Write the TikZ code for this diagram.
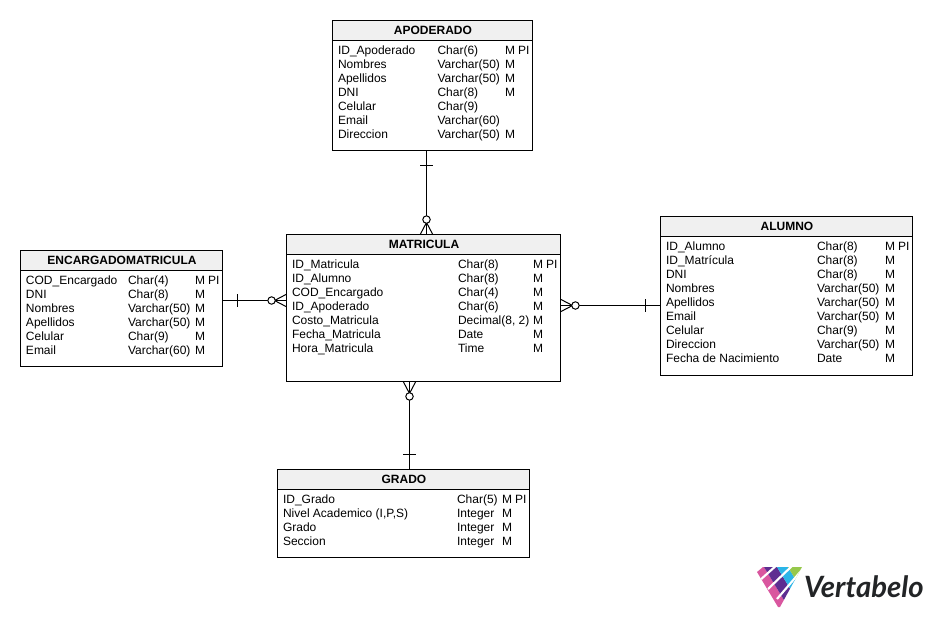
\documentclass[tikz,border=0pt]{standalone}
\usepackage{fontspec}
\setmainfont{Liberation Sans}
\newfontfamily\logofont{Lato}
\definecolor{headfill}{HTML}{F0F0F0}
\definecolor{logopink}{HTML}{D9569F}
\definecolor{logopurple}{HTML}{5E2D91}
\definecolor{logoblue}{HTML}{2BB5E8}
\definecolor{logogreen}{HTML}{96C84B}
\definecolor{logotext}{HTML}{222426}
\tikzset{
  x=0.75pt,y=-0.75pt,
  tablebox/.style={draw=black,line width=0.8pt,fill=white,anchor=north west,inner sep=0pt,outer sep=0pt},
  headbox/.style={draw=black,line width=0.8pt,fill=headfill,anchor=north west,inner sep=0pt,outer sep=0pt,font=\bfseries\fontsize{9}{10}\selectfont},
  cell/.style={anchor=base west,inner sep=0pt,outer sep=0pt,font=\fontsize{9}{10}\selectfont},
  rel/.style={draw=black,line width=0.75pt},
  ring/.style={circle,draw=black,fill=white,line width=0.75pt,minimum size=5.6pt,inner sep=0pt,outer sep=0pt},
  logocut/.style={draw=white,line width=1.6pt},
}
% name, title, left, top, right, bottom
\newcommand{\dbtable}[6]{%
  \node[tablebox,minimum width=#5*0.75pt-#3*0.75pt,minimum height=#6*0.75pt-#4*0.75pt] (#1) at (#3,#4) {};
  \node[headbox,minimum width=#5*0.75pt-#3*0.75pt,minimum height=15pt] (#1h) at (#3,#4) {\raisebox{-0.2pt}{\hspace{0.7pt}#2}};
}
% prefix, c1, c2, c3, c4, first baseline, list
\newcounter{rowno}
\newcommand{\dbrows}[7]{%
  \setcounter{rowno}{0}%
  \foreach \a/\b/\c/\d in {#7}{%
    \pgfmathsetmacro{\yy}{#6+14*\value{rowno}-0.6}%
    \node[cell] (#1a\the\value{rowno}) at (#2,\yy) {\a};
    \node[cell] (#1b\the\value{rowno}) at (#3,\yy) {\b};
    \node[cell] (#1c\the\value{rowno}) at (#4,\yy) {\c};
    \node[cell] (#1d\the\value{rowno}) at (#5,\yy) {\d};
    \global\stepcounter{rowno}%
  }%
}
\begin{document}
\begin{tikzpicture}
\useasboundingbox (0,0) rectangle (932,617);
\fill[white] (0,0) rectangle (932,617);

\dbtable{apo}{APODERADO}{332.5}{20.5}{532.5}{150.5}
\dbrows{apo}{338}{437.5}{505}{518}{55}{ID\_Apoderado/Char(6)/M/PI,Nombres/Varchar(50)/M/,Apellidos/Varchar(50)/M/,DNI/Char(8)/M/,Celular/Char(9)//,Email/Varchar(60)//,Direccion/Varchar(50)/M/}

\dbtable{mat}{MATRICULA}{286.5}{234.5}{560.5}{381.5}
\dbrows{mat}{292}{458}{533}{546}{269}{ID\_Matricula/Char(8)/M/PI,ID\_Alumno/Char(8)/M/,COD\_Encargado/Char(4)/M/,ID\_Apoderado/Char(6)/M/,Costo\_Matricula/{Decimal(8, 2)}/M/,Fecha\_Matricula/Date/M/,Hora\_Matricula/Time/M/}

\dbtable{alu}{ALUMNO}{660.5}{216.5}{912.5}{375.5}
\dbrows{alu}{666}{817}{885}{898}{251}{ID\_Alumno/Char(8)/M/PI,ID\_Matrícula/Char(8)/M/,DNI/Char(8)/M/,Nombres/Varchar(50)/M/,Apellidos/Varchar(50)/M/,Email/Varchar(50)/M/,Celular/Char(9)/M/,Direccion/Varchar(50)/M/,Fecha de Nacimiento/Date/M/}

\dbtable{enc}{ENCARGADOMATRICULA}{20.5}{250.5}{222.5}{366.5}
\dbrows{enc}{26}{128}{195}{208}{285}{COD\_Encargado/Char(4)/M/PI,DNI/Char(8)/M/,Nombres/Varchar(50)/M/,Apellidos/Varchar(50)/M/,Celular/Char(9)/M/,Email/Varchar(60)/M/}

\dbtable{gra}{GRADO}{277.5}{469.5}{529.5}{557.5}
\dbrows{gra}{283}{457}{502}{515}{504}{ID\_Grado/Char(5)/M/PI,{Nivel Academico (I,P,S)}/Integer/M/,Grado/Integer/M/,Seccion/Integer/M/}

% APODERADO - MATRICULA
\coordinate (r1a) at (426.5,150.5);
\coordinate (r1b) at (mat.north -| r1a);
\draw[rel] (apo.south -| r1a) -- (r1b);
\draw[rel] ([shift={(-6.5,14.5)}]r1a) -- ([shift={(6.5,14.5)}]r1a);
\draw[rel] ([xshift=-4.7pt]r1b) -- ([yshift=9pt]r1b) -- ([xshift=4.7pt]r1b);
\node[ring] (r1r) at ([yshift=11.2pt]r1b) {};

% ENCARGADO - MATRICULA
\coordinate (r2a) at (enc.east |- 0,300.5);
\coordinate (r2b) at (mat.west |- 0,300.5);
\draw[rel] (r2a) -- (r2b);
\draw[rel] ([shift={(15,-6.5)}]r2a) -- ([shift={(15,6.5)}]r2a);
\draw[rel] ([yshift=4.7pt]r2b) -- ([xshift=-9pt]r2b) -- ([yshift=-4.7pt]r2b);
\node[ring] (r2r) at ([xshift=-11.2pt]r2b) {};

% ALUMNO - MATRICULA
\coordinate (r3a) at (alu.west |- 0,305.5);
\coordinate (r3b) at (mat.east |- 0,305.5);
\draw[rel] (r3a) -- (r3b);
\draw[rel] ([shift={(-15,-6.5)}]r3a) -- ([shift={(-15,6.5)}]r3a);
\draw[rel] ([yshift=4.7pt]r3b) -- ([xshift=9pt]r3b) -- ([yshift=-4.7pt]r3b);
\node[ring] (r3r) at ([xshift=11.2pt]r3b) {};

% GRADO - MATRICULA
\coordinate (r4a) at (409.5,469.5);
\coordinate (r4b) at (mat.south -| r4a);
\draw[rel] (gra.north -| r4a) -- (r4b);
\draw[rel] ([shift={(-6.5,-15)}]r4a) -- ([shift={(6.5,-15)}]r4a);
\draw[rel] ([xshift=-4.7pt]r4b) -- ([yshift=-9pt]r4b) -- ([xshift=4.7pt]r4b);
\node[ring] (r4r) at ([yshift=-11.2pt]r4b) {};

% logo
\begin{scope}
\clip (757,572) -- (763,567) -- (802,567) -- (780,607) -- (778,607) -- cycle;
\fill[logopink] (750,567) -- (764,567) -- (790,610) -- (776,610) -- cycle;
\fill[logopurple] (764,567) -- (777,567) -- (803,610) -- (790,610) -- cycle;
\fill[logoblue] (777,567) -- (788,567) -- (814,610) -- (803,610) -- cycle;
\fill[logogreen] (788,567) -- (805,567) -- (814,610) -- cycle;
\draw[logocut] (759,581) -- (778,564);
\draw[logocut] (768,589) -- (794,564);
\draw[logocut] (777,599) -- (807,564);
\end{scope}
\node[anchor=base west,inner sep=0pt,outer sep=0pt,text=logotext,font=\logofont\bfseries\itshape\fontsize{22}{24}\selectfont] (logotxt) at (804,597) {Vertabelo};
\end{tikzpicture}
\end{document}
